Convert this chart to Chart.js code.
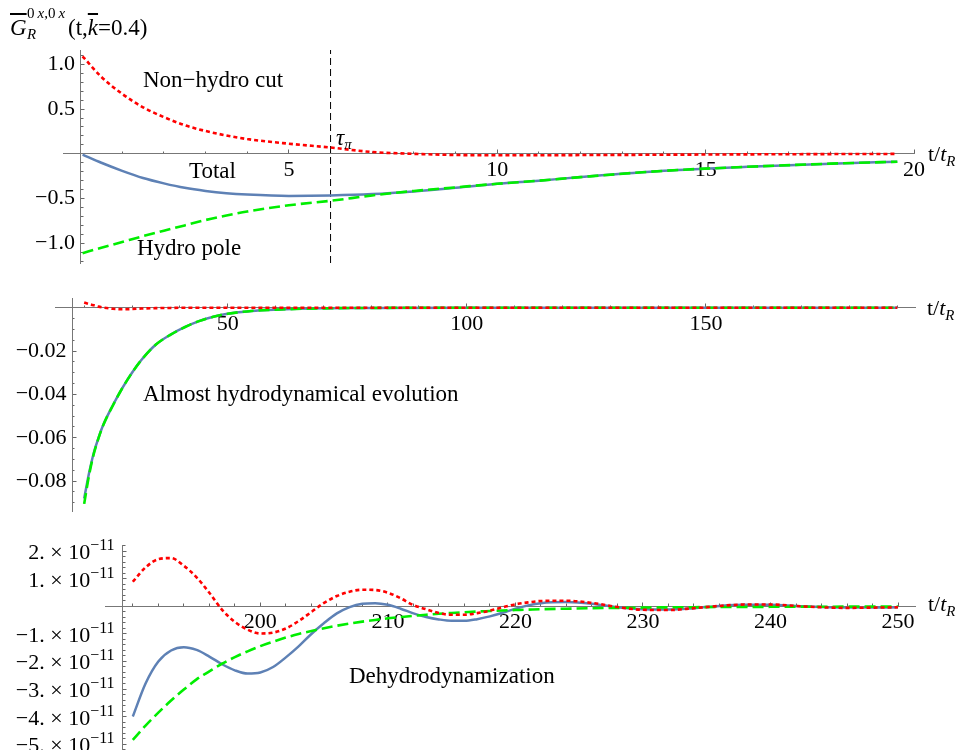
<!DOCTYPE html>
<html>
<head>
<meta charset="utf-8">
<script src="https://cdn.jsdelivr.net/npm/chart.js@4.4.1/dist/chart.umd.min.js"></script>
<style>
  body { margin: 0; background: #fff; }
  #wrap { position: relative; width: 959px; height: 750px; overflow: hidden; background: #fff;
          font-family: "Liberation Serif", "Times New Roman", serif; color: #000; }
  canvas { position: absolute; left: 0; }
  .lbl { position: absolute; font-size: 23px; line-height: 23px; white-space: nowrap; }
  .ax { position: absolute; font-size: 22px; line-height: 22px; white-space: nowrap; }
  .small { position: absolute; font-size: 15px; line-height: 15px; white-space: nowrap; }
  .sub { position: relative; font-size: 15px; }
</style>
</head>
<body>
<div id="wrap">
  <canvas id="early" width="959" height="280" style="top:0"></canvas>
  <canvas id="mid" width="959" height="245" style="top:280px"></canvas>
  <canvas id="late" width="959" height="225" style="top:525px"></canvas>

  <!-- y axis title -->
  <div class="lbl" style="left:10px; top:15.7px"><i style="text-decoration:overline">G</i></div>
  <div class="small" style="left:27px; top:6.4px">0&thinsp;<i>x</i>,0&thinsp;<i>x</i></div>
  <div class="small" style="left:27px; top:27px"><i>R</i></div>
  <div class="lbl" style="left:68px; top:16.2px">(t,<i style="text-decoration:overline">k</i>=0.4)</div>

  <!-- panel 1 notes -->
  <div class="lbl" style="left:143px; top:68px">Non−hydro cut</div>
  <div class="lbl" style="left:189px; top:159px">Total</div>
  <div class="lbl" style="left:137px; top:236.4px">Hydro pole</div>
  <div class="lbl" style="left:336px; top:125.7px"><i>τ</i><span class="sub" style="top:4px"><i>π</i></span></div>
  <div class="ax" style="left:928px; top:142.6px">t/<i>t</i><span class="sub" style="top:5px"><i>R</i></span></div>

  <!-- panel 2 notes -->
  <div class="lbl" style="left:143px; top:382.4px">Almost hydrodynamical evolution</div>
  <div class="ax" style="left:927px; top:297.3px">t/<i>t</i><span class="sub" style="top:5px"><i>R</i></span></div>

  <!-- panel 3 notes -->
  <div class="lbl" style="left:349px; top:664px">Dehydrodynamization</div>
  <div class="ax" style="left:928px; top:593.3px">t/<i>t</i><span class="sub" style="top:5px"><i>R</i></span></div>
</div>

<script>
// ---- panel 1: early times ----
const earlyT     = [0.05, 0.5, 1, 1.5, 2, 2.5, 3, 3.5, 4, 5, 6, 7, 8, 9, 10, 11, 12, 14, 16, 18, 19.6];
const earlyTotal = [-0.01, -0.10, -0.19, -0.27, -0.33, -0.38, -0.415, -0.44, -0.455, -0.47, -0.465, -0.45, -0.42, -0.38, -0.335, -0.30, -0.26, -0.19, -0.145, -0.11, -0.088];
const earlyHydro = [-1.11, -1.05, -0.985, -0.92, -0.86, -0.80, -0.74, -0.69, -0.645, -0.575, -0.525, -0.465, -0.415, -0.375, -0.335, -0.30, -0.26, -0.19, -0.145, -0.11, -0.088];
const earlyCut   = [1.09, 0.86, 0.67, 0.52, 0.41, 0.32, 0.255, 0.205, 0.165, 0.113, 0.07, 0.02, 0.0, -0.013, -0.016, -0.016, -0.014, -0.01, -0.006, -0.003, -0.001];
const tauPi = 6;

// ---- panel 2: intermediate times ----
const midT     = [20, 21, 22, 23, 24, 26, 28, 30, 32, 35, 38, 41, 44, 47, 50, 55, 60, 70, 80, 100, 130, 160, 190];
const midTotal = [-0.088, -0.0765, -0.067, -0.060, -0.054, -0.045, -0.037, -0.030, -0.024, -0.017, -0.0125, -0.009, -0.0062, -0.0042, -0.0028, -0.0015, -0.0009, -0.0003, -0.0001, 0, 0, 0, 0];
const midHydro = [-0.0905, -0.0775, -0.0675, -0.0602, -0.0541, -0.0451, -0.037, -0.030, -0.024, -0.017, -0.0125, -0.009, -0.0062, -0.0042, -0.0028, -0.0015, -0.0009, -0.0003, -0.0001, 0, 0, 0, 0];
const midCut   = [0.0024, 0.0017, 0.0011, 0.0005, 0.0001, -0.0005, -0.0007, -0.0006, -0.0004, -0.0002, -0.0001, 0, 0, 0, 0, 0, 0, 0, 0, 0, 0, 0, 0];

// ---- panel 3: late times, values in units of 1e-11 ----
const lateUnit = 1e-11;
const lateT = [190, 191, 192, 193, 194, 195, 196, 197, 198, 199, 200, 201, 202, 203, 204, 205, 206, 207, 208, 209, 210,
               211, 212, 213, 214, 215, 216, 217, 218, 219, 220, 221, 222, 224, 226, 228, 230, 232, 234, 236, 238, 240,
               242, 244, 246, 248, 250];
const lateTotal = [-4.0, -2.8, -2.0, -1.6, -1.48, -1.58, -1.82, -2.1, -2.32, -2.44, -2.4, -2.2, -1.85, -1.45, -1.0, -0.6, -0.25, -0.02, 0.1, 0.12, 0.06,
                   -0.08, -0.25, -0.38, -0.47, -0.52, -0.52, -0.46, -0.36, -0.23, -0.08, 0.04, 0.12, 0.16, 0.1, -0.03, -0.1, -0.11, -0.06, 0.02, 0.06, 0.06,
                   0.02, -0.02, -0.04, -0.04, -0.03];
const lateHydro = [-4.85, -4.33, -3.86, -3.42, -3.02, -2.65, -2.36, -2.08, -1.84, -1.63, -1.44, -1.28, -1.13, -1.0, -0.89, -0.79, -0.7, -0.62, -0.55, -0.49, -0.43,
                   -0.38, -0.34, -0.3, -0.265, -0.235, -0.21, -0.185, -0.165, -0.145, -0.13, -0.115, -0.1, -0.08, -0.062, -0.05, -0.04, -0.03, -0.025, -0.02, -0.015, -0.012,
                   -0.01, -0.008, -0.006, -0.005, -0.004];
const lateCut = [0.9, 1.42, 1.72, 1.76, 1.48, 1.06, 0.5, -0.12, -0.56, -0.84, -0.98, -0.95, -0.8, -0.53, -0.2, 0.13, 0.38, 0.54, 0.61, 0.6, 0.5,
                 0.3, 0.05, -0.1, -0.24, -0.3, -0.3, -0.24, -0.15, -0.03, 0.08, 0.15, 0.2, 0.21, 0.13, -0.02, -0.12, -0.13, -0.06, 0.02, 0.07, 0.07,
                 0.02, -0.03, -0.05, -0.04, -0.03];

// ---- axis ticks (major ticks carry labels, minor ones are short marks every `step`) ----
const earlyXTicks = { lo: 0, hi: 20, step: 1, major: [5, 10, 15, 20], labels: ['5', '10', '15', '20'] };
const earlyYTicks = { lo: -1.2, hi: 1.1, step: 0.1, major: [1, 0.5, -0.5, -1], labels: ['1.0', '0.5', '−0.5', '−1.0'] };
const midXTicks = { lo: 20, hi: 190, step: 10, major: [50, 100, 150], labels: ['50', '100', '150'] };
const midYTicks = { lo: -0.09, hi: 0, step: 0.005, major: [-0.02, -0.04, -0.06, -0.08], labels: ['−0.02', '−0.04', '−0.06', '−0.08'] };
const lateXTicks = { lo: 190, hi: 250, step: 2, major: [200, 210, 220, 230, 240, 250], labels: ['200', '210', '220', '230', '240', '250'] };
// y labels of the last panel are "m.×10^−11", drawn with a real superscript
const lateYTicks = { lo: -5.2e-11, hi: 2.2e-11, step: 0.2e-11, major: [2e-11, 1e-11, -1e-11, -2e-11, -3e-11, -4e-11, -5e-11] };
const lateMantissa = ['2.', '1.', '−1.', '−2.', '−3.', '−4.', '−5.'];
const lateExponent = '−11';

const totalStyle = { borderColor: '#5e81b5', borderWidth: 2.5 };
const hydroStyle = { borderColor: '#00ee00', borderWidth: 2.6, borderDash: [11, 5] };
const cutStyle   = { borderColor: '#ff0000', borderWidth: 2.6, borderDash: [4, 3] };

function series(ts, vs, style, unit) {
  const k = unit || 1;
  return Object.assign({
    data: ts.map((t, i) => ({ x: t, y: vs[i] * k })),
    xAxisID: 'x', yAxisID: 'y',
    pointRadius: 0, fill: false, cubicInterpolationMode: 'monotone'
  }, style);
}

const isMajor = (t, v) => t.major.some(m => Math.abs(m - v) < t.step * 1e-3);

function axis(dir, range, pos, t, minor) {
  const isY = dir === 'y';
  return {
    axis: dir, type: 'linear', min: range[0], max: range[1], position: pos,
    grid: { drawOnChartArea: false, tickLength: minor ? -2.5 : -4.5, tickColor: '#666' },
    border: { display: !minor, color: '#777', width: 1 },
    ticks: {
      autoSkip: false, maxRotation: 0, padding: isY ? 0 : 7.5, color: '#000',
      font: { family: 'Liberation Serif', size: 22 },
      callback: v => {
        if (minor || !t.labels) return '';
        const k = t.major.findIndex(m => Math.abs(m - v) < t.step * 1e-3);
        return k < 0 ? '' : t.labels[k] + (isY ? ' ' : '');
      }
    },
    afterBuildTicks: s => {
      const list = [];
      if (minor) {
        for (let i = Math.round(t.lo / t.step); i <= Math.round(t.hi / t.step); i++) {
          if (!isMajor(t, i * t.step)) list.push({ value: i * t.step });
        }
      } else {
        t.major.forEach(m => list.push({ value: m }));
      }
      s.ticks = list;
    },
    afterFit: s => { s.paddingLeft = s.paddingRight = s.paddingTop = s.paddingBottom = 0; }
  };
}

function panel(id, pad, xr, yr, yAxisAt, xt, yt, sets, extra) {
  return new Chart(document.getElementById(id), {
    type: 'line',
    data: { datasets: sets },
    options: {
      responsive: false, animation: false, events: [],
      layout: { padding: pad },
      plugins: { legend: { display: false }, tooltip: { enabled: false } },
      scales: {
        x: axis('x', xr, { y: 0 }, xt, false),
        y: axis('y', yr, { x: yAxisAt }, yt, false),
        xMinor: axis('x', xr, { y: 0 }, xt, true),
        yMinor: axis('y', yr, { x: yAxisAt }, yt, true)
      }
    },
    plugins: extra || []
  });
}

const earlyY = [-1.22, 1.16];
panel('early', { left: 63, right: 45, top: 50, bottom: 17 }, [-0.42, 20], earlyY, 0, earlyXTicks, earlyYTicks, [
  series(earlyT, earlyCut, cutStyle),
  series(earlyT, earlyHydro, hydroStyle),
  series(earlyT, earlyTotal, totalStyle),
  { data: [{ x: tauPi, y: earlyY[0] }, { x: tauPi, y: earlyY[1] }], xAxisID: 'x', yAxisID: 'y',
    borderColor: '#000', borderWidth: 1, borderDash: [7, 4], pointRadius: 0 }
]);

panel('mid', { left: 55, right: 44, top: 18.3, bottom: 13.3 }, [13.9, 193.7], [-0.0941, 0.00434], 17.47, midXTicks, midYTicks, [
  series(midT, midCut, cutStyle),
  series(midT, midHydro, hydroStyle),
  series(midT, midTotal, totalStyle)
]);

const lateYAxisAt = 189.2;
const sciLabels = {
  id: 'sciLabels',
  afterDraw(chart) {
    const ctx = chart.ctx;
    const right = chart.scales.x.getPixelForValue(lateYAxisAt) - 8;
    ctx.save();
    ctx.fillStyle = '#000';
    ctx.textAlign = 'right';
    ctx.textBaseline = 'alphabetic';
    lateYTicks.major.forEach((v, i) => {
      const base = chart.scales.y.getPixelForValue(v) + 8;
      ctx.font = '16px "Liberation Serif"';
      ctx.fillText(lateExponent, right, base - 9);
      let x = right - ctx.measureText(lateExponent).width;
      ctx.font = '22px "Liberation Serif"';
      ctx.fillText('10', x, base);
      x -= ctx.measureText('10').width + 5.5;
      ctx.fillText('×', x, base);
      x -= ctx.measureText('×').width + 5.5;
      ctx.fillText(lateMantissa[i], x, base);
    });
    ctx.restore();
  }
};

panel('late', { left: 105, right: 44, top: 20, bottom: 0 }, [187.82, 251.33], [-5.218e-11, 2.236e-11], lateYAxisAt, lateXTicks, lateYTicks, [
  series(lateT, lateCut, cutStyle, lateUnit),
  series(lateT, lateHydro, hydroStyle, lateUnit),
  series(lateT, lateTotal, totalStyle, lateUnit)
], [sciLabels]);
</script>
</body>
</html>
